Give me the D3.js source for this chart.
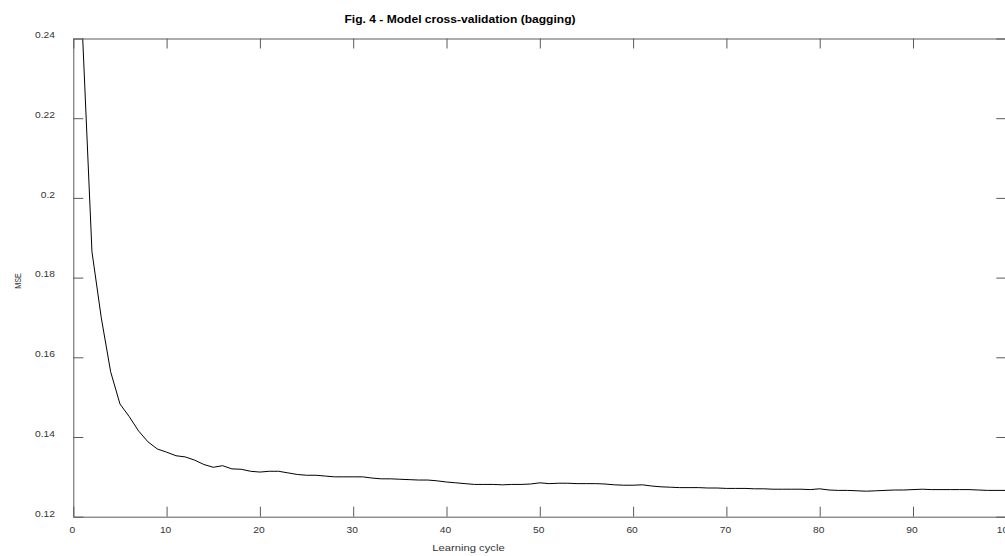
<!DOCTYPE html>
<html>
<head>
<meta charset="utf-8">
<script src="https://cdn.jsdelivr.net/npm/d3@7"></script>
<style>
  html, body { margin: 0; padding: 0; background: #fff; overflow: hidden; }
  text { font-family: "Liberation Sans", Arial, Helvetica, sans-serif; }
</style>
</head>
<body>
<script>
// cross-validation error per learning cycle
const cycles = d3.range(1, 101);
const mse = [
	0.2405, 0.1865, 0.1699, 0.1564, 0.1483, 0.1451, 0.1415, 0.1388, 0.1370, 0.1362,
	0.1353, 0.1350, 0.1342, 0.1331, 0.1324, 0.1328, 0.1320, 0.1319, 0.1314, 0.1312,
	0.1314, 0.1314, 0.1310, 0.1306, 0.1304, 0.1304, 0.1302, 0.1300, 0.1300, 0.1300,
	0.1300, 0.1297, 0.1295, 0.1295, 0.1294, 0.1293, 0.1292, 0.1292, 0.1290, 0.1287,
	0.1285, 0.1283, 0.1281, 0.1281, 0.1281, 0.1280, 0.1281, 0.1281, 0.1282, 0.1285,
	0.1283, 0.1284, 0.1284, 0.1283, 0.1283, 0.1283, 0.1282, 0.1280, 0.1279, 0.1279,
	0.1280, 0.1277, 0.1275, 0.1274, 0.1273, 0.1273, 0.1273, 0.1272, 0.1272, 0.1271,
	0.1271, 0.1271, 0.1270, 0.1270, 0.1269, 0.1269, 0.1269, 0.1269, 0.1268, 0.1270,
	0.1267, 0.1266, 0.1266, 0.1265, 0.1264, 0.1265, 0.1266, 0.1267, 0.1267, 0.1268,
	0.1269, 0.1268, 0.1268, 0.1268, 0.1268, 0.1268, 0.1267, 0.1266, 0.1266, 0.1266,
];

const xTicks = [0, 10, 20, 30, 40, 50, 60, 70, 80, 90, 100];
const yTicks = [0.12, 0.14, 0.16, 0.18, 0.2, 0.22, 0.24];
const xTickLabels = ["0", "10", "20", "30", "40", "50", "60", "70", "80", "90", "100"];
const yTickLabels = ["0.12", "0.14", "0.16", "0.18", "0.2", "0.22", "0.24"];

const titleText = "Fig. 4 - Model cross-validation (bagging)";
const xLabelText = "Learning cycle";
const yLabelText = "MSE";

const width = 1005;
const height = 556;
const plotLeft = 73.3, plotRight = 1006.3, plotTop = 38.5, plotBottom = 516.7;
const axisColor = "#5a5a5a";
const textColor = "#333";
const stretch = 1.14; // text in the figure is drawn a bit wide

const svg = d3.select("body")
	.append("svg")
	.attr("width", width)
	.attr("height", height)
	.attr("viewBox", `0 0 ${width} ${height}`);

const x = d3.scaleLinear().domain([0, 100]).range([plotLeft, plotRight]);
const y = d3.scaleLinear().domain([0.12, 0.24]).range([plotBottom, plotTop]);

svg.append("clipPath")
	.attr("id", "plot-clip")
	.append("rect")
	.attr("x", plotLeft)
	.attr("y", plotTop)
	.attr("width", plotRight - plotLeft)
	.attr("height", plotBottom - plotTop);

// curve
const line = d3.line()
	.x((d, i) => x(cycles[i]))
	.y(d => y(d));

svg.append("path")
	.datum(mse)
	.attr("clip-path", "url(#plot-clip)")
	.attr("fill", "none")
	.attr("stroke", "#000")
	.attr("stroke-width", 1)
	.attr("d", line);

// axes, ticks pointing inward on all four sides
const styleAxis = (g) => {
	g.selectAll(".domain").attr("stroke", axisColor);
	g.selectAll(".tick line").attr("stroke", axisColor);
	g.selectAll("text")
		.attr("fill", textColor)
		.style("font-size", "9px");
};

const xAxis = svg.append("g")
	.attr("transform", `translate(0,${plotBottom})`)
	.call(d3.axisBottom(x)
		.tickValues(xTicks)
		.tickFormat((d, i) => xTickLabels[i])
		.tickSize(-10)
		.tickSizeOuter(0)
		.tickPadding(9.5))
	.call(styleAxis);
xAxis.selectAll("text")
	.attr("transform", `translate(-1.5,0) scale(${stretch},1)`);

const yAxis = svg.append("g")
	.attr("transform", `translate(${plotLeft},0)`)
	.call(d3.axisLeft(y)
		.tickValues(yTicks)
		.tickFormat((d, i) => yTickLabels[i])
		.tickSize(-10)
		.tickSizeOuter(0)
		.tickPadding(18.3))
	.call(styleAxis);
yAxis.selectAll("text")
	.attr("x", -18.3 / stretch)
	.attr("y", -3.5)
	.attr("transform", `scale(${stretch},1)`);

svg.append("g")
	.attr("transform", `translate(0,${plotTop})`)
	.call(d3.axisTop(x)
		.tickValues(xTicks)
		.tickFormat("")
		.tickSize(-10)
		.tickSizeOuter(0))
	.call(styleAxis);

svg.append("g")
	.attr("transform", `translate(${plotRight},0)`)
	.call(d3.axisRight(y)
		.tickValues(yTicks)
		.tickFormat("")
		.tickSize(-10)
		.tickSizeOuter(0))
	.call(styleAxis);

// title and axis labels
svg.append("text")
	.attr("transform", `translate(460,22.5) scale(1.15,1)`)
	.attr("text-anchor", "middle")
	.attr("fill", "#000")
	.style("font-size", "10.5px")
	.style("font-weight", "bold")
	.text(titleText);

svg.append("text")
	.attr("transform", `translate(468.5,551) scale(1.25,1)`)
	.attr("text-anchor", "middle")
	.attr("fill", textColor)
	.style("font-size", "9px")
	.text(xLabelText);

svg.append("text")
	.attr("transform", `translate(21,281) rotate(-90) scale(0.85,1.15)`)
	.attr("text-anchor", "middle")
	.attr("fill", textColor)
	.style("font-size", "8.5px")
	.text(yLabelText);
</script>
</body>
</html>
